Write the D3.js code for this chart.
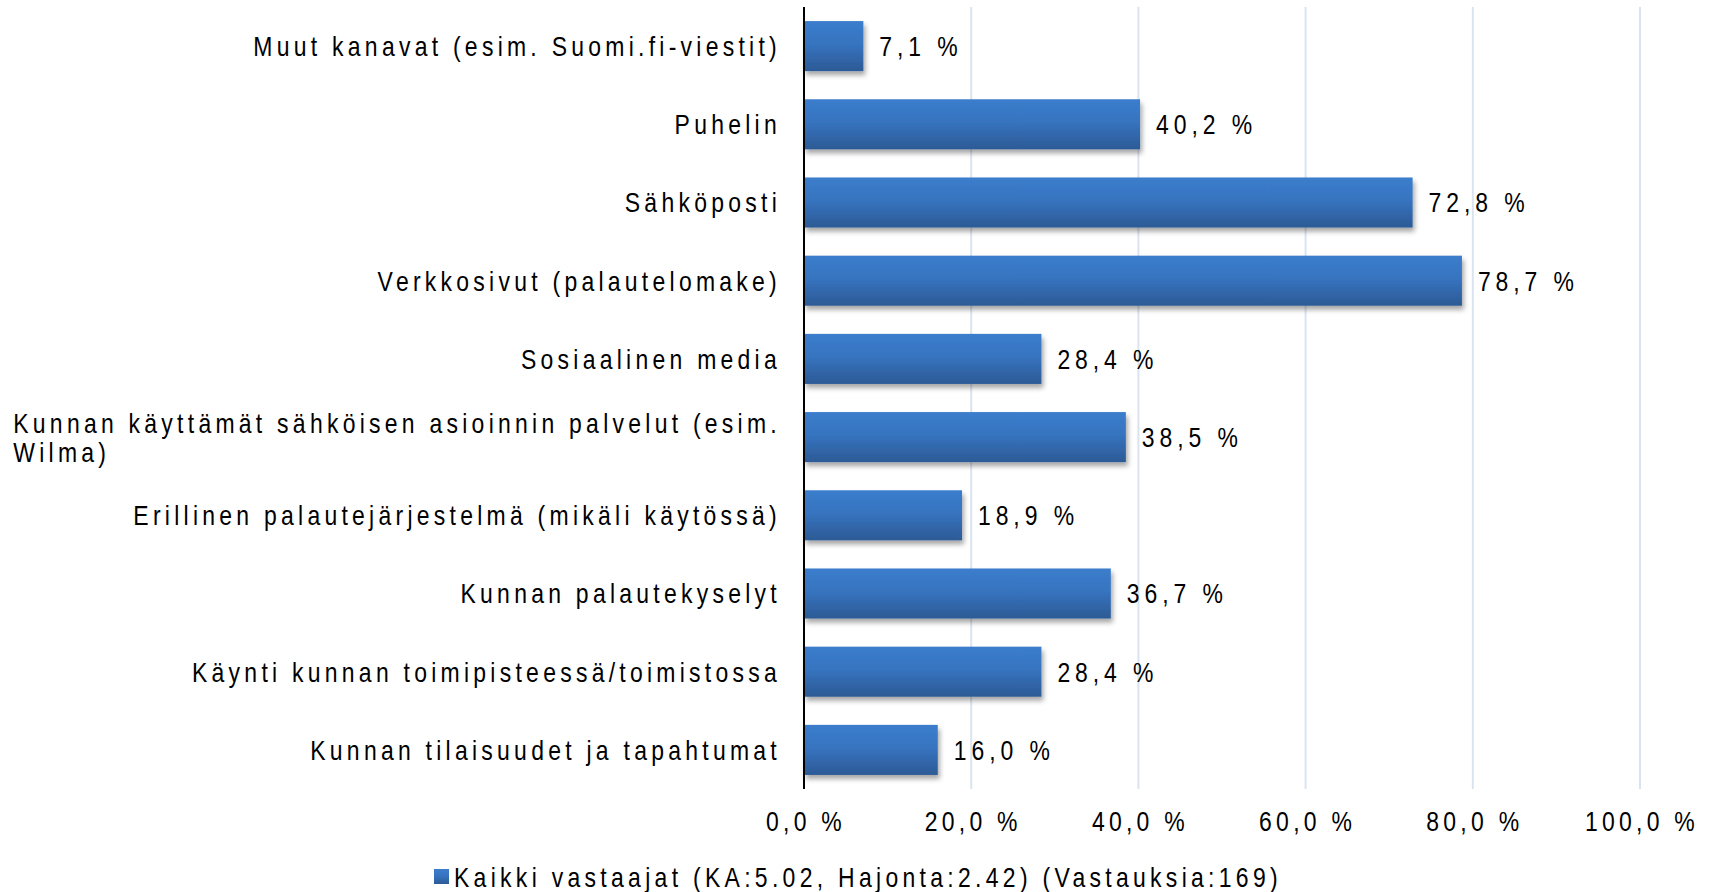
<!DOCTYPE html>
<html>
<head>
<meta charset="utf-8">
<script src="https://cdn.jsdelivr.net/npm/d3@7"></script>
<style>
  html, body { margin: 0; padding: 0; background: #fff; }
  text { font-family: "Liberation Sans", Arial, sans-serif; fill: #000; font-size: 28px; }
</style>
</head>
<body>
<svg id="chart" width="1713" height="892"></svg>
<script>
// categories, top to bottom
const categories = [
  'Muut kanavat (esim. Suomi.fi-viestit)',
  'Puhelin',
  'Sähköposti',
  'Verkkosivut (palautelomake)',
  'Sosiaalinen media',
  'Kunnan käyttämät sähköisen asioinnin palvelut (esim.|Wilma)',
  'Erillinen palautejärjestelmä (mikäli käytössä)',
  'Kunnan palautekyselyt',
  'Käynti kunnan toimipisteessä/toimistossa',
  'Kunnan tilaisuudet ja tapahtumat'
];
const values = [7.1, 40.2, 72.8, 78.7, 28.4, 38.5, 18.9, 36.7, 28.4, 16.0];
const ticks = [0, 20, 40, 60, 80, 100];
const legendLabel = 'Kaikki vastaajat (KA:5.02, Hajonta:2.42) (Vastauksia:169)';

const fmt = v => v.toFixed(1).replace('.', ',') + ' %';

// the original uses a narrow font; squeeze Liberation Sans horizontally
const squeeze = 0.82;

const margin = { top: 7, left: 804, right: 73, bottom: 103 };
const width = 1713 - margin.left - margin.right;
const height = 892 - margin.top - margin.bottom;

const svg = d3.select('#chart');
const defs = svg.append('defs');

const grad = defs.append('linearGradient')
  .attr('id', 'barGrad').attr('x1', 0).attr('y1', 0).attr('x2', 0).attr('y2', 1);
grad.append('stop').attr('offset', '0%').attr('stop-color', '#3b7dcc');
grad.append('stop').attr('offset', '45%').attr('stop-color', '#3774c0');
grad.append('stop').attr('offset', '100%').attr('stop-color', '#2c5a95');

const shadow = defs.append('filter').attr('id', 'shadow')
  .attr('x', '-5%').attr('y', '-20%').attr('width', '115%').attr('height', '160%');
shadow.append('feDropShadow')
  .attr('dx', 2).attr('dy', 4).attr('stdDeviation', 2.5)
  .attr('flood-color', '#000').attr('flood-opacity', 0.35);

const g = svg.append('g').attr('transform', `translate(${margin.left},${margin.top})`);

const x = d3.scaleLinear().domain([0, 100]).range([0, width]);
const y = d3.scaleBand().domain(categories).range([0, height]).paddingInner(0.36).paddingOuter(0.18);

// vertical gridlines
g.append('g').selectAll('line')
  .data(ticks.slice(1))
  .join('line')
  .attr('x1', d => x(d)).attr('x2', d => x(d))
  .attr('y1', 0).attr('y2', height)
  .attr('stroke', '#dae4f0').attr('stroke-width', 2);

// bars
g.append('g').selectAll('rect')
  .data(values)
  .join('rect')
  .attr('x', 0)
  .attr('y', (d, i) => y(categories[i]))
  .attr('width', d => x(d))
  .attr('height', y.bandwidth())
  .attr('fill', 'url(#barGrad)')
  .attr('filter', 'url(#shadow)');

// y axis line
g.append('line')
  .attr('x1', 0).attr('x2', 0).attr('y1', 0).attr('y2', height)
  .attr('stroke', '#000').attr('stroke-width', 2);

// value labels
g.append('g').selectAll('text')
  .data(values)
  .join('text')
  .attr('transform', (d, i) => `translate(${x(d) + 16},${y(categories[i]) + y.bandwidth() / 2}) scale(${squeeze},1)`)
  .attr('dy', '0.35em')
  .style('letter-spacing', '6px')
  .text(d => fmt(d));

// category labels
const labels = g.append('g').selectAll('text')
  .data(categories)
  .join('text')
  .attr('transform', d => `translate(-23,${y(d) + y.bandwidth() / 2}) scale(${squeeze},1)`)
  .style('letter-spacing', '5.2px');

labels.each(function(d) {
  const lines = d.split('|');
  const t = d3.select(this);
  if (lines.length === 1) {
    t.attr('text-anchor', 'end').attr('dy', '0.35em').text(d);
  } else {
    const first = t.append('tspan').attr('x', 0).attr('text-anchor', 'end').attr('dy', '-0.15em').text(lines[0]);
    const w = first.node().getComputedTextLength();
    t.append('tspan').attr('x', -w).attr('text-anchor', 'start').attr('dy', '1.05em').text(lines[1]);
  }
});

// x tick labels
g.append('g').selectAll('text')
  .data(ticks)
  .join('text')
  .attr('transform', d => `translate(${x(d) + 2},${height + 32}) scale(${squeeze},1)`)
  .attr('dy', '0.35em')
  .attr('text-anchor', 'middle')
  .style('letter-spacing', '5.2px')
  .text(d => fmt(d));

// legend
const legend = svg.append('g').attr('transform', 'translate(434,877)');
legend.append('rect')
  .attr('x', 0).attr('y', -8).attr('width', 15).attr('height', 15)
  .attr('fill', 'url(#barGrad)');
legend.append('text')
  .attr('transform', `translate(20,0) scale(${squeeze},1)`)
  .attr('dy', '0.35em')
  .style('letter-spacing', '5.25px')
  .text(legendLabel);
</script>
</body>
</html>
